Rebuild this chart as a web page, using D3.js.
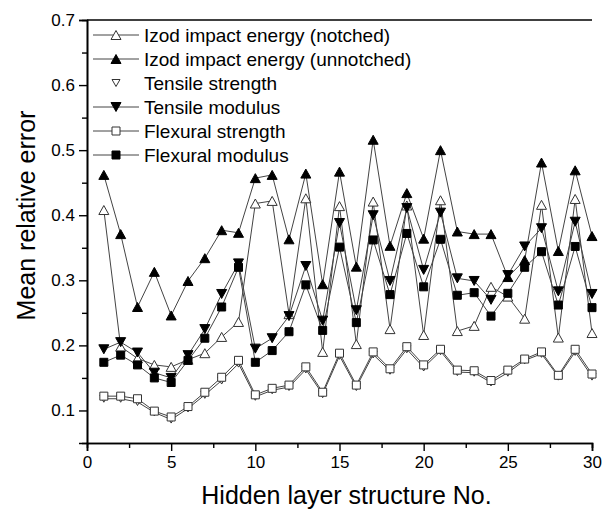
<!DOCTYPE html>
<html>
<head>
<meta charset="utf-8">
<script src="https://cdn.jsdelivr.net/npm/d3@7"></script>
<style>
  html, body { margin: 0; padding: 0; background: #fff; }
  svg { display: block; font-family: Arial, "Liberation Sans", sans-serif; }
</style>
</head>
<body>
<svg id="chart" width="602" height="512"></svg>
<script>
// ---- data ----
const structureNo = d3.range(1, 31);
const izodNotched = [0.408,0.198,0.180,0.170,0.167,0.178,0.188,0.213,0.236,0.418,0.422,0.248,0.426,0.190,0.414,0.202,0.421,0.225,0.415,0.216,0.423,0.222,0.230,0.290,0.275,0.241,0.416,0.212,0.425,0.219];
const izodUnnotched = [0.462,0.371,0.259,0.313,0.246,0.299,0.334,0.377,0.373,0.457,0.462,0.363,0.464,0.294,0.467,0.321,0.516,0.353,0.434,0.364,0.500,0.375,0.371,0.371,0.305,0.331,0.481,0.345,0.469,0.368];
const tensileStrength = [0.118,0.118,0.113,0.097,0.086,0.103,0.124,0.146,0.172,0.121,0.131,0.136,0.163,0.125,0.184,0.136,0.186,0.161,0.194,0.166,0.191,0.159,0.158,0.143,0.158,0.177,0.187,0.152,0.190,0.152];
const tensileModulus = [0.194,0.205,0.189,0.158,0.150,0.185,0.225,0.279,0.326,0.195,0.211,0.245,0.322,0.238,0.388,0.254,0.400,0.299,0.411,0.316,0.404,0.303,0.299,0.270,0.308,0.352,0.380,0.283,0.390,0.279];
const flexuralStrength = [0.122,0.122,0.118,0.099,0.090,0.106,0.128,0.151,0.177,0.124,0.134,0.139,0.167,0.128,0.188,0.139,0.190,0.164,0.198,0.170,0.194,0.162,0.161,0.146,0.162,0.179,0.190,0.154,0.194,0.156];
const flexuralModulus = [0.174,0.185,0.170,0.150,0.143,0.177,0.211,0.259,0.320,0.174,0.192,0.221,0.293,0.223,0.351,0.235,0.362,0.278,0.372,0.290,0.363,0.277,0.281,0.245,0.280,0.320,0.344,0.262,0.352,0.258];
const seriesNames = ["Izod impact energy (notched)","Izod impact energy (unnotched)","Tensile strength","Tensile modulus","Flexural strength","Flexural modulus"];
const xTicks = [0,5,10,15,20,25,30];
const yTicks = [0.1,0.2,0.3,0.4,0.5,0.6,0.7];
const xTitle = "Hidden layer structure No.";
const yTitle = "Mean relative error";

// ---- layout ----
const pLeft = 87, pRight = 592, pTop = 20, pBottom = 443;
const x = d3.scaleLinear().domain([0, 30]).range([pLeft, pRight]);
const y = d3.scaleLinear().domain([0.05, 0.7]).range([pBottom, pTop]);
const svg = d3.select("#chart");

// marker shapes
function triUp(w, h) { return `M0,${-h/2}L${w/2},${h/2}L${-w/2},${h/2}Z`; }
function triDown(w, h) { return `M0,${h/2}L${w/2},${-h/2}L${-w/2},${-h/2}Z`; }
function square(s) { return `M${-s/2},${-s/2}h${s}v${s}h${-s}Z`; }

const series = [
  {name: seriesNames[0], values: izodNotched, path: triUp(10, 9), fill: "#fff", stroke: "#333", line: true},
  {name: seriesNames[1], values: izodUnnotched, path: triUp(10, 9), fill: "#000", stroke: "#000", line: true},
  {name: seriesNames[2], values: tensileStrength, path: triDown(8, 7), fill: "#fff", stroke: "#333", line: true, legendLine: false},
  {name: seriesNames[3], values: tensileModulus, path: triDown(10, 9), fill: "#000", stroke: "#000", line: true},
  {name: seriesNames[4], values: flexuralStrength, path: square(8), fill: "#fff", stroke: "#333", line: true},
  {name: seriesNames[5], values: flexuralModulus, path: square(8), fill: "#000", stroke: "#000", line: true}
];

// ---- axes ----
const xAxis = d3.axisBottom(x).tickValues(xTicks).tickSize(8).tickPadding(5).tickFormat(d3.format("d"));
const xMinor = d3.axisBottom(x).tickValues(d3.range(2.5, 30, 5)).tickSize(5).tickFormat("");
const yAxis = d3.axisLeft(y).tickValues(yTicks).tickSize(8).tickPadding(4).tickFormat(d3.format(".1f"));
const yMinor = d3.axisLeft(y).tickValues(d3.range(0.15, 0.7, 0.1)).tickSize(5).tickFormat("");

function styleAxis(g) {
  g.select(".domain").attr("stroke", "#000").attr("stroke-width", 1.6);
  g.selectAll(".tick line").attr("stroke", "#000").attr("stroke-width", 1.4);
  g.selectAll(".tick text").attr("fill", "#000").style("font-size", "17px").style("font-family", "Arial, 'Liberation Sans', sans-serif");
}

svg.append("g").attr("transform", `translate(0,${pBottom})`).call(xMinor).call(styleAxis);
svg.append("g").attr("transform", `translate(0,${pBottom})`).call(xAxis).call(styleAxis);
svg.append("g").attr("transform", `translate(${pLeft},0)`).call(yMinor).call(styleAxis);
svg.append("g").attr("transform", `translate(${pLeft},0)`).call(yAxis).call(styleAxis);

// top frame line
svg.append("line").attr("x1", pLeft).attr("x2", pRight).attr("y1", y(0.7)).attr("y2", y(0.7))
  .attr("stroke", "#000").attr("stroke-width", 1.6);

// titles
svg.append("text").attr("x", (pLeft + pRight) / 2 + 7).attr("y", 504)
  .attr("text-anchor", "middle").style("font-size", "25px").attr("fill", "#000").text(xTitle);
svg.append("text").attr("transform", `translate(35,${(pTop + pBottom) / 2 - 16}) rotate(-90)`)
  .attr("text-anchor", "middle").style("font-size", "25px").attr("fill", "#000").text(yTitle);

// ---- lines ----
const lineGen = d3.line().x((d, i) => x(structureNo[i])).y(d => y(d));
series.forEach(s => {
  if (s.line) {
    svg.append("path").datum(s.values).attr("d", lineGen)
      .attr("fill", "none").attr("stroke", "#444").attr("stroke-width", 1);
  }
});
// ---- markers ----
series.forEach(s => {
  svg.append("g").selectAll("path").data(s.values).join("path")
    .attr("d", s.path)
    .attr("transform", (d, i) => `translate(${x(structureNo[i])},${y(d)})`)
    .attr("fill", s.fill).attr("stroke", s.stroke).attr("stroke-width", 1);
});

// ---- legend ----
const legend = svg.append("g");
series.forEach((s, i) => {
  const cy = 35 + i * 24;
  if (s.legendLine !== false) {
    legend.append("line").attr("x1", 93).attr("x2", 139).attr("y1", cy).attr("y2", cy)
      .attr("stroke", "#444").attr("stroke-width", 1);
  }
  legend.append("path").attr("d", s.path).attr("transform", `translate(116,${cy})`)
    .attr("fill", s.fill).attr("stroke", s.stroke).attr("stroke-width", 1);
  legend.append("text").attr("x", 144).attr("y", cy).attr("dy", "0.35em")
    .style("font-size", "19px").attr("fill", "#000").text(s.name);
});
</script>
</body>
</html>
